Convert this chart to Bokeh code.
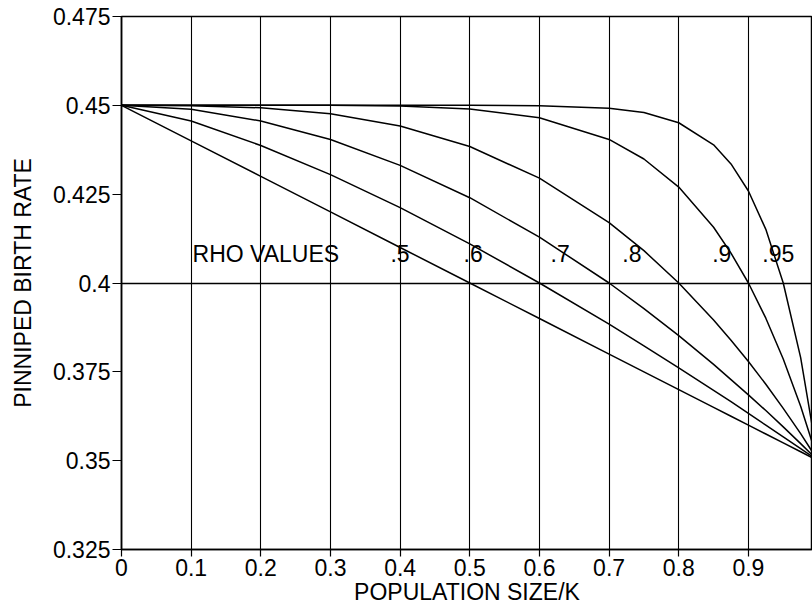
from bokeh.plotting import figure
from bokeh.models import FixedTicker
from bokeh.embed import file_html
from bokeh.resources import INLINE
from bokeh.core.properties import value

# Population size / K (x positions of the read-off points)
pop_size = [0, 0.1, 0.2, 0.3, 0.4, 0.5, 0.6, 0.7, 0.75, 0.8, 0.85, 0.875, 0.9, 0.925, 0.95, 0.975, 1.0]

# Pinniped birth rate for each rho value
rate_rho_50 = [0.45, 0.44, 0.43, 0.42, 0.41, 0.40, 0.39, 0.38, 0.375, 0.37, 0.365, 0.3625, 0.36, 0.3575, 0.355, 0.3525, 0.35]
rate_rho_60 = [0.45, 0.4456, 0.4387, 0.4305, 0.4212, 0.4110, 0.4000, 0.3884, 0.3823, 0.3761, 0.3698, 0.3666, 0.3633, 0.3600, 0.3567, 0.3534, 0.35]
rate_rho_70 = [0.45, 0.4489, 0.4456, 0.4404, 0.4331, 0.4240, 0.4129, 0.4000, 0.3928, 0.3852, 0.3771, 0.3728, 0.3685, 0.3641, 0.3595, 0.3548, 0.35]
rate_rho_80 = [0.45, 0.4499, 0.4493, 0.4476, 0.4442, 0.4384, 0.4295, 0.4170, 0.4091, 0.4000, 0.3896, 0.3839, 0.3779, 0.3715, 0.3647, 0.3576, 0.35]
rate_rho_90 = [0.45, 0.45, 0.45, 0.45, 0.4498, 0.4490, 0.4465, 0.4404, 0.4349, 0.4270, 0.4157, 0.4084, 0.4000, 0.3901, 0.3786, 0.3653, 0.35]
rate_rho_95 = [0.45, 0.45, 0.45, 0.45, 0.45, 0.45, 0.4499, 0.4492, 0.4480, 0.4451, 0.4389, 0.4335, 0.4259, 0.4151, 0.4000, 0.3790, 0.35]

# Tick values and labels
x_ticks = [0, 0.1, 0.2, 0.3, 0.4, 0.5, 0.6, 0.7, 0.8, 0.9]
x_tick_labels = ["0", "0.1", "0.2", "0.3", "0.4", "0.5", "0.6", "0.7", "0.8", "0.9"]
y_ticks = [0.325, 0.35, 0.375, 0.4, 0.425, 0.45, 0.475]
y_tick_labels = ["0.325", "0.35", "0.375", "0.4", "0.425", "0.45", "0.475"]

# In-chart annotation texts
rho_texts = ["RHO VALUES", ".5", ".6", ".7", ".8", ".9", ".95"]
rho_text_x = [0.102, 0.386, 0.491, 0.616, 0.719, 0.848, 0.920]
rho_text_y = 0.4083

FONT = "Liberation Sans"
FS = "23px"

p = figure(width=812, height=610, x_range=(0, 0.992), y_range=(0.325, 0.475),
           output_backend="svg", toolbar_location=None,
           min_border_left=121, min_border_top=16, min_border_right=0, min_border_bottom=61)

p.background_fill_color = "white"
p.border_fill_color = "white"
p.outline_line_color = "black"
p.outline_line_width = 1.5

# axes
p.xaxis.ticker = FixedTicker(ticks=x_ticks)
p.xaxis.major_label_overrides = dict(zip(x_ticks, x_tick_labels))
p.yaxis.ticker = FixedTicker(ticks=y_ticks)
p.yaxis.major_label_overrides = dict(zip(y_ticks, y_tick_labels))

for ax in (p.xaxis[0], p.yaxis[0]):
    ax.axis_line_color = "black"
    ax.axis_line_width = 1.5
    ax.major_tick_line_color = "black"
    ax.major_tick_line_width = 1.2
    ax.major_tick_in = 0
    ax.minor_tick_line_color = None
    ax.major_label_text_font = FONT
    ax.major_label_text_font_size = FS
    ax.major_label_text_color = "black"
    ax.axis_label_text_font = FONT
    ax.axis_label_text_font_size = FS
    ax.axis_label_text_font_style = "normal"
    ax.axis_label_text_color = "black"

p.xaxis.major_tick_out = 7
p.xaxis.major_label_standoff = 2
p.xaxis.axis_label = "POPULATION SIZE/K"
p.xaxis.axis_label_standoff = 0
p.yaxis.major_tick_out = 9
p.yaxis.major_label_standoff = 2
p.yaxis.axis_label = "PINNIPED BIRTH RATE"
p.yaxis.axis_label_standoff = 14

# grids
p.xgrid.ticker = FixedTicker(ticks=x_ticks)
p.xgrid.grid_line_color = "black"
p.xgrid.grid_line_width = 1.1
p.xgrid.grid_line_alpha = 1.0
p.ygrid.ticker = FixedTicker(ticks=[0.4])
p.ygrid.grid_line_color = "black"
p.ygrid.grid_line_width = 1.3
p.ygrid.grid_line_alpha = 1.0

# curves
for series in (rate_rho_50, rate_rho_60, rate_rho_70, rate_rho_80, rate_rho_90, rate_rho_95):
    p.line(pop_size, series, line_color="black", line_width=1.5)

# annotations
p.text(x=rho_text_x, y=[rho_text_y] * len(rho_texts), text=rho_texts,
       text_font=value(FONT), text_font_size=FS, text_color="black",
       text_align="left", text_baseline="middle")

open("out.html", "w").write(file_html(p, INLINE))
